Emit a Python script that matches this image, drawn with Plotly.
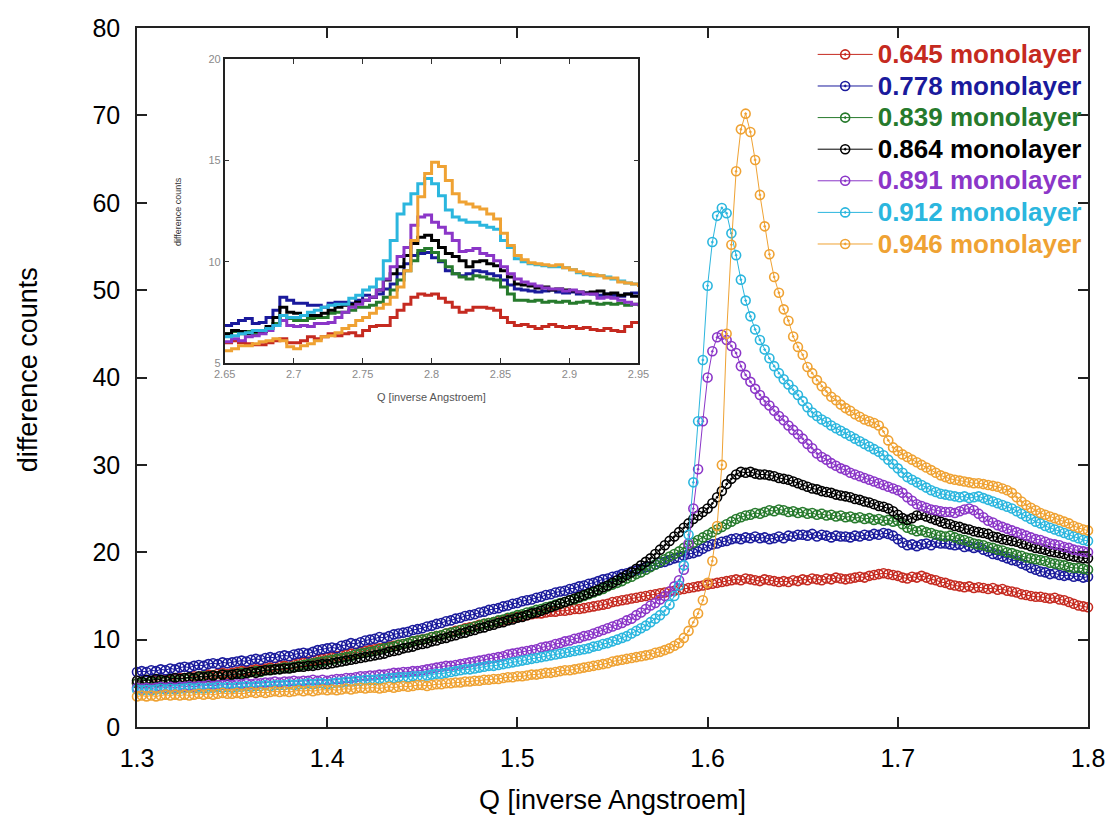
import numpy as np
import plotly.graph_objects as go

# ---------------- main chart data (Q step 0.0025 from 1.3 to 1.8) ----------------
Q_MAIN = np.round(np.linspace(1.3, 1.8, 201), 4)

NAMES = ["0.645 monolayer", "0.778 monolayer", "0.839 monolayer", "0.864 monolayer",
         "0.891 monolayer", "0.912 monolayer", "0.946 monolayer"]
COLORS = ["#c52a20", "#1a1a9c", "#267a2c", "#000000", "#8b36c8", "#2bb6de", "#efa233"]

RED = [5.0, 5.1, 5.0, 5.2, 5.3, 5.2, 5.4, 5.3, 5.5, 5.6,
       5.6, 5.7, 5.8, 5.7, 5.9, 6.0, 5.9, 6.1, 6.2, 6.1,
       6.2, 6.3, 6.4, 6.4, 6.5, 6.6, 6.6, 6.7, 6.8, 6.9,
       7.0, 7.0, 7.1, 7.2, 7.3, 7.4, 7.5, 7.6, 7.7, 7.8,
       7.9, 8.0, 8.1, 8.2, 8.3, 8.4, 8.5, 8.6, 8.7, 8.8,
       8.9, 9.0, 9.1, 9.2, 9.3, 9.4, 9.5, 9.6, 9.8, 9.9,
       10.0, 10.1, 10.3, 10.4, 10.5, 10.7, 10.8, 11.0, 11.1, 11.3,
       11.4, 11.5, 11.7, 11.8, 11.9, 12.0, 12.1, 12.2, 12.4, 12.5,
       12.6, 12.7, 12.8, 12.9, 13.0, 13.0, 13.1, 13.2, 13.2, 13.3,
       13.3, 13.4, 13.5, 13.5, 13.6, 13.7, 13.8, 13.9, 14.0, 14.1,
       14.3, 14.4, 14.5, 14.6, 14.7, 14.8, 14.9, 15.0, 15.1, 15.2,
       15.3, 15.4, 15.5, 15.6, 15.7, 15.8, 15.9, 16.0, 16.1, 16.2,
       16.3, 16.4, 16.5, 16.6, 16.7, 16.8, 16.9, 16.8, 17.0, 16.9,
       16.8, 16.7, 16.9, 16.8, 16.7, 16.6, 16.7, 16.6, 16.8, 16.7,
       16.9, 16.8, 17.0, 16.9, 16.8, 17.0, 16.9, 17.1, 17.0, 16.9,
       17.0, 17.1, 17.2, 17.1, 17.3, 17.4, 17.5, 17.6, 17.5, 17.4,
       17.3, 17.1, 17.0, 17.2, 17.1, 17.3, 17.1, 16.9, 16.8, 16.6,
       16.5, 16.3, 16.2, 16.1, 16.0, 16.1, 15.9, 16.0, 15.9, 15.8,
       15.9, 15.7, 15.8, 15.6, 15.5, 15.4, 15.2, 15.1, 15.0, 14.9,
       14.9, 14.8, 14.7, 14.8, 14.6, 14.5, 14.3, 14.1, 13.9, 13.8,
       13.7]

BLUE = [6.3, 6.4, 6.3, 6.5, 6.4, 6.6, 6.5, 6.7, 6.6, 6.8,
        6.9, 6.8, 7.0, 7.1, 7.0, 7.2, 7.3, 7.2, 7.4, 7.3,
        7.4, 7.5, 7.6, 7.5, 7.7, 7.8, 7.7, 7.9, 8.0, 7.9,
        8.1, 8.2, 8.1, 8.3, 8.4, 8.5, 8.4, 8.6, 8.8, 8.9,
        9.0, 9.1, 9.0, 9.3, 9.4, 9.6, 9.5, 9.7, 9.9, 10.0,
        10.1, 10.3, 10.2, 10.4, 10.6, 10.7, 10.8, 10.9, 11.1, 11.2,
        11.3, 11.5, 11.6, 11.8, 11.9, 12.1, 12.2, 12.4, 12.5, 12.7,
        12.8, 12.9, 13.1, 13.2, 13.4, 13.5, 13.6, 13.8, 13.9, 14.1,
        14.2, 14.4, 14.5, 14.6, 14.8, 14.9, 15.1, 15.2, 15.4, 15.5,
        15.6, 15.8, 15.9, 16.1, 16.2, 16.4, 16.5, 16.7, 16.9, 17.0,
        17.2, 17.3, 17.5, 17.6, 17.8, 17.9, 18.1, 18.3, 18.4, 18.6,
        18.8, 18.9, 19.1, 19.3, 19.4, 19.6, 19.8, 19.9, 20.1, 20.4,
        20.7, 20.9, 21.0, 21.2, 21.3, 21.5, 21.6, 21.5, 21.7, 21.6,
        21.8, 21.6, 21.7, 21.5, 21.6, 21.8, 21.6, 21.9, 21.8, 22.0,
        22.0, 21.9, 22.1, 21.8, 22.0, 21.9, 21.7, 21.9, 21.8, 21.8,
        21.7, 21.9, 21.8, 22.0, 21.9, 22.1, 22.0, 22.2, 22.1, 21.9,
        21.5, 21.1, 20.8, 20.9, 20.7, 20.9, 21.0, 20.8, 21.1, 21.0,
        21.0, 20.9, 20.8, 20.9, 20.6, 20.7, 20.5, 20.6, 20.3, 20.1,
        19.8, 19.7, 19.5, 19.3, 19.1, 19.0, 18.7, 18.5, 18.2, 18.0,
        17.8, 17.7, 17.5, 17.6, 17.4, 17.3, 17.4, 17.2, 17.3, 17.1,
        17.2]

GREEN = [5.0, 5.1, 5.0, 5.2, 5.1, 5.3, 5.2, 5.4, 5.3, 5.5,
         5.5, 5.6, 5.5, 5.7, 5.8, 5.7, 5.9, 5.8, 6.0, 5.9,
         6.0, 6.1, 6.2, 6.1, 6.3, 6.4, 6.3, 6.5, 6.6, 6.6,
         6.7, 6.8, 6.8, 6.9, 7.0, 7.1, 7.2, 7.3, 7.4, 7.5,
         7.6, 7.7, 7.8, 7.9, 8.0, 8.1, 8.3, 8.4, 8.5, 8.6,
         8.7, 8.9, 9.0, 9.1, 9.2, 9.4, 9.5, 9.6, 9.8, 9.9,
         10.0, 10.1, 10.3, 10.4, 10.5, 10.7, 10.8, 10.9, 11.1, 11.2,
         11.3, 11.5, 11.6, 11.8, 11.9, 12.0, 12.2, 12.3, 12.5, 12.6,
         12.8, 12.9, 13.1, 13.2, 13.4, 13.5, 13.7, 13.8, 14.0, 14.2,
         14.3, 14.5, 14.6, 14.8, 15.0, 15.2, 15.4, 15.6, 15.8, 16.1,
         16.3, 16.5, 16.7, 17.0, 17.2, 17.5, 17.7, 18.0, 18.3, 18.6,
         18.9, 19.2, 19.5, 19.8, 20.1, 20.5, 20.8, 21.1, 21.4, 21.7,
         22.0, 22.3, 22.6, 22.9, 23.2, 23.5, 23.8, 24.0, 24.2, 24.3,
         24.5, 24.4, 24.6, 24.8, 24.7, 24.9, 24.8, 24.6, 24.7, 24.5,
         24.6, 24.4, 24.5, 24.3, 24.4, 24.2, 24.3, 24.1, 24.2, 24.0,
         24.1, 23.9, 24.0, 23.8, 23.9, 23.7, 23.8, 23.6, 23.7, 23.5,
         23.6, 23.2, 22.8, 22.6, 22.4, 22.5, 22.3, 22.2, 22.0, 21.9,
         21.8, 21.9, 21.7, 21.5, 21.4, 21.2, 21.0, 20.9, 20.8, 20.6,
         20.5, 20.3, 20.2, 20.0, 19.9, 19.7, 19.6, 19.4, 19.3, 19.2,
         19.1, 19.0, 18.8, 18.7, 18.6, 18.5, 18.3, 18.2, 18.2, 18.1,
         18.0]

BLACK = [5.3, 5.2, 5.4, 5.3, 5.5, 5.4, 5.3, 5.5, 5.6, 5.5,
         5.6, 5.7, 5.6, 5.8, 5.7, 5.8, 5.9, 5.8, 6.0, 5.9,
         6.0, 6.1, 6.0, 6.2, 6.3, 6.2, 6.4, 6.5, 6.5, 6.6,
         6.6, 6.7, 6.7, 6.8, 6.9, 6.9, 7.0, 7.0, 7.1, 7.2,
         7.2, 7.3, 7.4, 7.5, 7.6, 7.7, 7.8, 7.9, 8.0, 8.1,
         8.2, 8.3, 8.4, 8.6, 8.7, 8.8, 9.0, 9.1, 9.2, 9.4,
         9.5, 9.6, 9.8, 9.9, 10.1, 10.2, 10.4, 10.5, 10.7, 10.8,
         11.0, 11.1, 11.3, 11.4, 11.6, 11.7, 11.9, 12.0, 12.2, 12.3,
         12.5, 12.6, 12.8, 13.0, 13.1, 13.3, 13.5, 13.7, 13.9, 14.1,
         14.3, 14.5, 14.7, 14.9, 15.1, 15.3, 15.5, 15.7, 16.0, 16.2,
         16.5, 16.8, 17.1, 17.4, 17.7, 18.1, 18.5, 18.9, 19.3, 19.8,
         20.3, 20.8, 21.3, 21.8, 22.3, 22.8, 23.3, 23.8, 24.2, 24.6,
         25.0, 25.6, 26.3, 27.0, 27.8, 28.4, 28.9, 29.2, 29.1, 29.2,
         29.0, 28.9, 28.9, 28.8, 28.7, 28.5, 28.4, 28.3, 28.1, 27.9,
         27.7, 27.5, 27.3, 27.2, 27.0, 26.9, 26.8, 26.6, 26.5, 26.4,
         26.3, 26.1, 26.0, 25.8, 25.7, 25.5, 25.3, 25.2, 25.0, 24.7,
         24.3, 23.9, 23.7, 23.9, 24.2, 24.3, 24.1, 23.9, 23.7, 23.5,
         23.3, 23.2, 23.0, 22.9, 22.7, 22.6, 22.4, 22.3, 22.2, 22.1,
         21.8, 21.7, 21.5, 21.4, 21.3, 21.2, 21.0, 20.9, 20.7, 20.5,
         20.4, 20.3, 20.1, 20.0, 19.9, 19.8, 19.6, 19.5, 19.4, 19.3,
         19.3]

PURPLE = [4.5, 4.4, 4.5, 4.4, 4.5, 4.6, 4.5, 4.6, 4.5, 4.6,
          4.6, 4.7, 4.6, 4.7, 4.7, 4.8, 4.7, 4.8, 4.8, 4.9,
          4.8, 4.9, 4.9, 5.0, 4.9, 5.0, 5.0, 5.1, 5.1, 5.2,
          5.1, 5.2, 5.2, 5.3, 5.2, 5.3, 5.3, 5.4, 5.3, 5.4,
          5.3, 5.4, 5.5, 5.5, 5.6, 5.6, 5.7, 5.8, 5.8, 5.9,
          5.9, 6.0, 6.0, 6.1, 6.2, 6.2, 6.3, 6.3, 6.4, 6.4,
          6.5, 6.6, 6.7, 6.8, 6.9, 7.0, 7.0, 7.1, 7.2, 7.3,
          7.4, 7.5, 7.6, 7.7, 7.8, 7.9, 8.0, 8.1, 8.3, 8.4,
          8.5, 8.6, 8.7, 8.8, 8.9, 9.1, 9.2, 9.3, 9.5, 9.6,
          9.8, 9.9, 10.1, 10.2, 10.4, 10.5, 10.7, 10.9, 11.1, 11.3,
          11.5, 11.7, 11.9, 12.2, 12.4, 12.8, 13.1, 13.5, 13.9, 14.2,
          14.6, 15.0, 15.5, 16.1, 16.8, 18.0, 21.0, 25.0, 29.5, 35.0,
          40.0, 43.0, 44.6, 44.9, 44.3, 43.6, 42.8, 41.3, 40.3, 39.5,
          38.7, 38.0, 37.3, 36.8, 36.2, 35.6, 35.1, 34.5, 34.0, 33.5,
          33.0, 32.4, 31.9, 31.3, 30.9, 30.6, 30.2, 29.9, 29.6, 29.4,
          29.1, 28.9, 28.7, 28.5, 28.3, 28.1, 27.9, 27.7, 27.5, 27.3,
          27.1, 26.8, 26.3, 25.9, 25.5, 25.3, 25.1, 24.9, 24.8, 24.7,
          24.6, 24.6, 24.5, 24.7, 24.9, 25.0, 24.8, 24.4, 24.0, 23.6,
          23.4, 23.1, 22.9, 22.7, 22.5, 22.3, 22.1, 21.9, 21.7, 21.5,
          21.4, 21.2, 21.0, 20.9, 20.8, 20.6, 20.5, 20.3, 20.2, 20.1,
          20.0]

CYAN = [4.3, 4.2, 4.3, 4.2, 4.3, 4.4, 4.3, 4.4, 4.3, 4.4,
        4.4, 4.5, 4.4, 4.5, 4.4, 4.5, 4.5, 4.6, 4.5, 4.6,
        4.5, 4.6, 4.6, 4.7, 4.6, 4.7, 4.7, 4.8, 4.7, 4.8,
        4.8, 4.8, 4.9, 4.8, 4.9, 4.9, 5.0, 4.9, 5.0, 5.0,
        4.9, 5.0, 5.1, 5.1, 5.2, 5.2, 5.3, 5.3, 5.4, 5.4,
        5.4, 5.5, 5.5, 5.6, 5.6, 5.7, 5.7, 5.7, 5.8, 5.8,
        5.8, 5.9, 6.0, 6.1, 6.1, 6.2, 6.3, 6.4, 6.5, 6.6,
        6.6, 6.7, 6.8, 6.9, 7.0, 7.0, 7.1, 7.2, 7.3, 7.4,
        7.5, 7.6, 7.7, 7.8, 7.9, 8.0, 8.1, 8.2, 8.3, 8.4,
        8.5, 8.6, 8.7, 8.8, 8.9, 9.0, 9.2, 9.3, 9.5, 9.6,
        9.8, 10.0, 10.2, 10.4, 10.7, 11.0, 11.3, 11.6, 12.0, 12.4,
        12.8, 13.3, 14.0, 15.0, 16.2, 18.5, 22.0, 28.0, 35.0, 42.0,
        50.5, 55.5, 58.5, 59.4, 58.8, 56.5, 54.0, 51.2, 48.8, 47.0,
        45.5, 44.3, 43.2, 42.2, 41.3, 40.5, 39.8, 39.2, 38.6, 38.0,
        37.3, 36.6, 36.0, 35.6, 35.2, 34.9, 34.5, 34.2, 33.9, 33.6,
        33.3, 33.0, 32.7, 32.4, 32.1, 31.8, 31.5, 31.1, 30.6, 30.1,
        29.6, 29.1, 28.6, 28.3, 28.0, 27.7, 27.4, 27.1, 26.9, 26.7,
        26.6, 26.5, 26.4, 26.3, 26.4, 26.2, 26.3, 26.4, 26.2, 26.0,
        25.8, 25.6, 25.4, 25.2, 25.0, 24.7, 24.4, 24.1, 23.8, 23.5,
        23.3, 23.0, 22.8, 22.6, 22.4, 22.2, 22.0, 21.8, 21.6, 21.4,
        21.3]

ORANGE = [3.5, 3.6, 3.5, 3.6, 3.5, 3.6, 3.7, 3.6, 3.7, 3.6,
          3.7, 3.6, 3.7, 3.8, 3.7, 3.8, 3.7, 3.8, 3.9, 3.8,
          3.8, 3.9, 3.8, 3.9, 4.0, 3.9, 4.0, 3.9, 4.0, 4.1,
          4.0, 4.1, 4.0, 4.1, 4.2, 4.1, 4.2, 4.1, 4.2, 4.3,
          4.2, 4.3, 4.2, 4.3, 4.4, 4.3, 4.4, 4.5, 4.4, 4.5,
          4.5, 4.4, 4.5, 4.6, 4.5, 4.6, 4.7, 4.6, 4.7, 4.8,
          4.8, 4.7, 4.8, 4.9, 4.9, 5.0, 5.0, 5.1, 5.1, 5.2,
          5.2, 5.3, 5.3, 5.4, 5.4, 5.5, 5.5, 5.6, 5.7, 5.7,
          5.8, 5.8, 5.9, 6.0, 6.0, 6.1, 6.2, 6.2, 6.3, 6.4,
          6.5, 6.5, 6.6, 6.7, 6.8, 6.9, 7.0, 7.1, 7.2, 7.3,
          7.5, 7.6, 7.7, 7.8, 7.9, 8.0, 8.1, 8.2, 8.3, 8.5,
          8.6, 8.8, 9.0, 9.3, 9.6, 10.2, 11.0, 12.0, 13.0, 14.5,
          16.5, 19.0, 23.0, 30.0, 45.0, 55.2, 63.6, 68.4, 70.2, 68.1,
          64.9, 60.9, 57.3, 54.1, 51.5, 49.7, 47.8, 46.5, 44.7, 43.5,
          42.6, 41.2, 40.5, 39.7, 39.0, 38.4, 37.8, 37.4, 36.9, 36.5,
          36.2, 35.8, 35.5, 35.2, 35.0, 34.8, 34.5, 33.8, 32.8, 32.0,
          31.6, 31.2, 30.9, 30.6, 30.3, 30.0, 29.7, 29.4, 29.1, 28.8,
          28.6, 28.4, 28.3, 28.2, 28.1, 28.0, 27.9, 27.9, 27.8, 27.7,
          27.6, 27.5, 27.3, 27.1, 26.8, 26.3, 25.8, 25.4, 25.1, 24.8,
          24.5, 24.3, 24.1, 23.9, 23.7, 23.5, 23.3, 23.0, 22.8, 22.6,
          22.5]

MAIN_SERIES = [RED, BLUE, GREEN, BLACK, PURPLE, CYAN, ORANGE]

# ---------------- inset data (Q step 0.005 from 2.65 to 2.95) ----------------
Q_INSET = np.round(np.linspace(2.65, 2.95, 61), 4)

RED_IN = [6.0, 6.1, 6.0, 5.95, 5.9, 5.9, 6.0, 6.1, 6.2, 6.0,
          6.0, 6.1, 6.3, 6.2, 6.3, 6.45, 6.35, 6.45, 6.5, 6.35,
          6.6, 6.8, 6.85, 6.85, 7.25, 7.6, 7.9, 8.25, 8.4, 8.35,
          8.4, 8.2, 8.0, 7.75, 7.5, 7.6, 7.75, 7.75, 7.7, 7.6,
          7.25, 7.0, 6.85, 6.9, 6.8, 6.7, 6.8, 6.9, 6.8, 6.75,
          6.8, 6.7, 6.75, 6.65, 6.6, 6.7, 6.6, 6.55, 6.8, 7.0,
          7.05]
BLUE_IN = [6.85, 6.95, 7.1, 7.2, 6.95, 7.0, 7.25, 7.6, 8.25, 8.1,
           7.95, 7.95, 7.85, 7.85, 7.75, 7.95, 8.0, 8.0, 7.95, 8.1,
           8.35, 8.25, 8.4, 8.65, 8.9, 9.4, 9.9, 10.3, 10.4, 10.45,
           10.2, 10.0, 9.55, 9.4, 9.3, 9.4, 9.55, 9.5, 9.4, 9.3,
           9.1, 8.85, 8.65, 8.6, 8.55, 8.5, 8.55, 8.6, 8.5, 8.45,
           8.5, 8.4, 8.45, 8.4, 8.35, 8.4, 8.35, 8.3, 8.4, 8.45,
           8.4]
GREEN_IN = [6.45, 6.55, 6.45, 6.55, 6.45, 6.55, 6.7, 6.95, 7.35, 7.2,
            7.1, 7.1, 7.2, 7.25, 7.25, 7.45, 7.5, 7.5, 7.6, 7.75,
            7.75, 7.85, 8.0, 8.25, 8.6, 9.1, 9.55, 10.05, 10.55, 10.65,
            10.45, 10.05, 9.75, 9.4, 9.25, 9.15, 9.3, 9.25, 9.15, 9.1,
            8.75, 8.4, 8.1, 8.1, 8.05, 8.1, 8.0, 8.05, 8.0, 8.05,
            7.95, 8.0, 8.05, 7.95, 7.9, 7.95, 7.9, 7.95, 7.85, 7.9,
            7.8]
BLACK_IN = [6.45, 6.6, 6.55, 6.45, 6.55, 6.55, 6.8, 7.25, 7.75, 7.5,
            7.45, 7.35, 7.35, 7.35, 7.45, 7.6, 7.75, 7.85, 7.9, 8.0,
            8.1, 8.25, 8.6, 9.1, 9.4, 9.75, 10.3, 10.9, 11.2, 11.3,
            11.05, 10.7, 10.4, 10.25, 10.05, 9.75, 10.0, 10.05, 9.9, 9.8,
            9.55, 9.25, 8.9, 8.85, 8.8, 8.7, 8.75, 8.6, 8.65, 8.6,
            8.55, 8.5, 8.45, 8.5, 8.55, 8.4, 8.45, 8.35, 8.4, 8.3,
            8.35]
PURPLE_IN = [6.05, 6.2, 6.1, 6.3, 6.35, 6.45, 6.6, 6.85, 7.1, 6.85,
             6.8, 6.85, 6.8, 6.95, 6.95, 7.0, 7.25, 7.5, 7.75, 7.9,
             8.1, 8.25, 8.6, 9.15, 9.75, 10.25, 10.7, 11.8, 12.2, 12.3,
             11.95, 11.7, 11.4, 11.05, 10.5, 10.55, 10.65, 10.4, 10.3, 10.05,
             9.75, 9.4, 9.15, 9.0, 8.9, 8.8, 8.7, 8.65, 8.65, 8.55,
             8.6, 8.5, 8.4, 8.4, 8.2, 8.25, 8.2, 8.1, 8.0, 7.9,
             7.85]
CYAN_IN = [6.3, 6.35, 6.45, 6.5, 6.6, 6.6, 6.7, 6.85, 7.35, 7.25,
           7.25, 7.35, 7.5, 7.6, 7.75, 7.85, 7.9, 7.9, 8.2, 8.35,
           8.6, 8.75, 9.15, 10.05, 11.05, 12.35, 12.85, 13.35, 13.85, 14.1,
           13.85, 13.25, 12.55, 12.2, 12.05, 11.95, 11.95, 11.8, 11.7, 11.6,
           11.05, 10.7, 10.15, 10.0, 9.9, 9.85, 9.8, 9.75, 9.75, 9.7,
           9.6, 9.45, 9.35, 9.3, 9.3, 9.25, 9.15, 9.05, 8.95, 8.9,
           8.8]
ORANGE_IN = [5.6, 5.7, 5.85, 5.85, 5.95, 6.05, 6.1, 6.2, 6.1, 5.8,
             5.7, 5.85, 5.95, 6.1, 6.3, 6.35, 6.5, 6.7, 6.85, 7.1,
             7.25, 7.45, 7.7, 7.9, 8.25, 8.75, 9.55, 11.05, 13.2, 14.35,
             14.9, 14.7, 14.0, 13.35, 12.95, 12.85, 12.7, 12.6, 12.35, 12.1,
             11.4, 10.8, 10.3, 10.1, 9.95, 9.9, 9.85, 9.8, 9.85, 9.7,
             9.6, 9.5, 9.4, 9.35, 9.3, 9.2, 9.2, 9.0, 8.95, 8.9,
             8.75]

INSET_SERIES = [RED_IN, BLUE_IN, GREEN_IN, BLACK_IN, PURPLE_IN, CYAN_IN, ORANGE_IN]

MAIN_X_TICKS = [1.3, 1.4, 1.5, 1.6, 1.7, 1.8]
MAIN_Y_TICKS = [0, 10, 20, 30, 40, 50, 60, 70, 80]
INSET_X_TICKS = [2.65, 2.7, 2.75, 2.8, 2.85, 2.9, 2.95]
INSET_X_TEXT = ["2.65", "2.7", "2.75", "2.8", "2.85", "2.9", "2.95"]
INSET_Y_TICKS = [5, 10, 15, 20]

for s in MAIN_SERIES:
    assert len(s) == len(Q_MAIN), len(s)
for s in INSET_SERIES:
    assert len(s) == len(Q_INSET), len(s)

FONT = "Liberation Sans, Arial, sans-serif"

fig = go.Figure()

for name, color, vals in zip(NAMES, COLORS, MAIN_SERIES):
    fig.add_trace(go.Scatter(
        x=Q_MAIN, y=vals, mode="lines+markers",
        name=f"<span style='font-size:26px;font-weight:bold;color:{color}'>{name}</span>",
        line=dict(color=color, width=1),
        marker=dict(symbol="circle-open-dot", size=9, color=color,
                    line=dict(width=1.6, color=color)),
        cliponaxis=False, xaxis="x", yaxis="y"))

for color, vals in zip(COLORS, INSET_SERIES):
    fig.add_trace(go.Scatter(
        x=Q_INSET, y=vals, mode="lines", line_shape="hv",
        line=dict(color=color, width=3), showlegend=False,
        xaxis="x2", yaxis="y2"))

axis_common = dict(showgrid=False, zeroline=False, showline=True, ticks="inside",
                   mirror="ticks")

fig.update_layout(
    width=1117, height=824,
    margin=dict(l=137, r=26, t=28, b=97),
    paper_bgcolor="white", plot_bgcolor="white",
    font=dict(family=FONT, color="black"),
    xaxis=dict(domain=[0, 1], range=[1.3, 1.8], tickvals=MAIN_X_TICKS,
               ticklen=10, tickwidth=1.5, tickcolor="#222", linecolor="#222", linewidth=1.5,
               tickfont=dict(size=25, family=FONT, color="black"), ticklabelstandoff=8,
               anchor="y", **axis_common),
    yaxis=dict(domain=[0, 1], range=[0, 80], tickvals=MAIN_Y_TICKS,
               ticklen=10, tickwidth=1.5, tickcolor="#222", linecolor="#222", linewidth=1.5,
               tickfont=dict(size=25, family=FONT, color="black"), ticklabelstandoff=10,
               anchor="x", **axis_common),
    xaxis2=dict(domain=[0.0922, 0.5273], range=[2.65, 2.95], tickvals=INSET_X_TICKS,
                ticktext=INSET_X_TEXT, ticklen=5, tickwidth=1, tickcolor="#333",
                linecolor="#222", linewidth=1.5,
                tickfont=dict(size=11, family=FONT, color="#8a8a8a"),
                anchor="y2", **axis_common),
    yaxis2=dict(domain=[0.5207, 0.9557], range=[5, 20], tickvals=INSET_Y_TICKS,
                ticklen=5, tickwidth=1, tickcolor="#333", linecolor="#222", linewidth=1.5,
                tickfont=dict(size=11, family=FONT, color="#8a8a8a"),
                anchor="x2", **axis_common),
    legend=dict(x=0.7105, y=0.992, xanchor="left", yanchor="top",
                bgcolor="rgba(0,0,0,0)", borderwidth=0,
                font=dict(size=22, family=FONT), itemwidth=55,
                tracegroupgap=0),
    annotations=[
        dict(text="Q [inverse Angstroem]", xref="paper", yref="paper",
             x=0.5, y=-0.1044, xanchor="center", yanchor="middle", showarrow=False,
             font=dict(size=27, family=FONT, color="black")),
        dict(text="difference counts", xref="paper", yref="paper",
             x=-0.1143, y=0.5107, xanchor="center", yanchor="middle", showarrow=False,
             textangle=-90, font=dict(size=27, family=FONT, color="black")),
        dict(text="Q [inverse Angstroem]", xref="paper", yref="paper",
             x=0.31, y=0.472, xanchor="center", yanchor="middle", showarrow=False,
             font=dict(size=11, family=FONT, color="#555")),
        dict(text="difference counts", xref="paper", yref="paper",
             x=0.043, y=0.738, xanchor="center", yanchor="middle", showarrow=False,
             textangle=-90, font=dict(size=9, family=FONT, color="#333")),
    ],
)

fig.write_html("out.html")
